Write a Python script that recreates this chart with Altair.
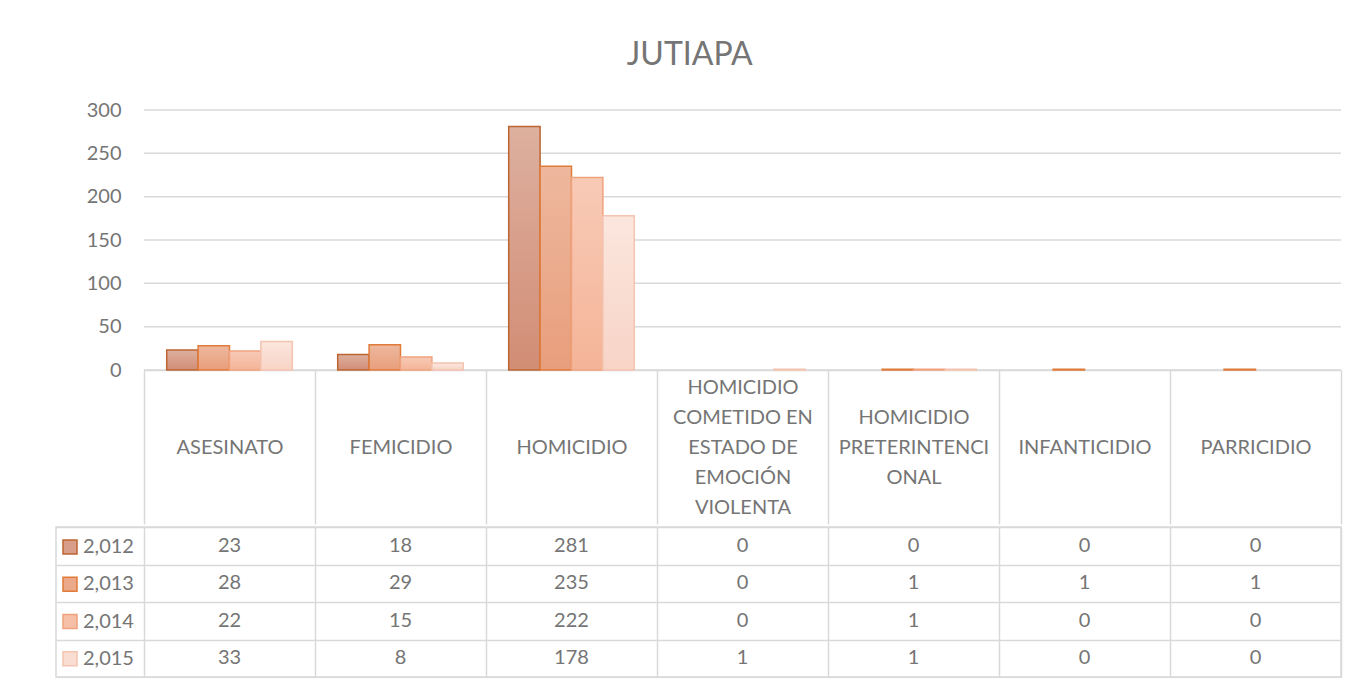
import json
import altair as alt
import pandas as pd

# ---------------- data ----------------
categories = [
    "ASESINATO",
    "FEMICIDIO",
    "HOMICIDIO",
    "HOMICIDIO COMETIDO EN ESTADO DE EMOCIÓN VIOLENTA",
    "HOMICIDIO PRETERINTENCIONAL",
    "INFANTICIDIO",
    "PARRICIDIO",
]
category_lines = [
    ["ASESINATO"],
    ["FEMICIDIO"],
    ["HOMICIDIO"],
    ["HOMICIDIO", "COMETIDO EN", "ESTADO DE", "EMOCIÓN", "VIOLENTA"],
    ["HOMICIDIO", "PRETERINTENCI", "ONAL"],
    ["INFANTICIDIO"],
    ["PARRICIDIO"],
]
years = ["2,012", "2,013", "2,014", "2,015"]
values_2012 = [23, 18, 281, 0, 0, 0, 0]
values_2013 = [28, 29, 235, 0, 1, 1, 1]
values_2014 = [22, 15, 222, 0, 1, 0, 0]
values_2015 = [33, 8, 178, 1, 1, 0, 0]
y_ticks = [0, 50, 100, 150, 200, 250, 300]

# ---------------- style ----------------
fill_top = ["#ddb09f", "#eeb89e", "#f8cab6", "#fbe6de"]
fill_bottom = ["#d28d75", "#e89e7c", "#f4b498", "#f8d4c6"]
fill_mid = ["#d89e89", "#eba98a", "#f6bfa7", "#f9ddd2"]
stroke_colors = ["#bd6530", "#e07b39", "#f0a27e", "#f4c4b0"]
TXT = "#757575"
GRID = "#d9d9d9"
FONT = "Lato"
HEADER_H = 154
LINE_H = 30

rows = []
for yr, vals in zip(years, [values_2012, values_2013, values_2014, values_2015]):
    for c, v in zip(categories, vals):
        rows.append({"category": c, "year": yr, "value": v})
df = pd.DataFrame(rows)
grid_df = pd.DataFrame({"tick": y_ticks})

label_expr = "".join(
    f"datum.value == {json.dumps(c)} ? {json.dumps(l)} : "
    for c, l in zip(categories, category_lines)
) + "datum.value"

# vertical centring of wrapped header text: first line moves up half a line per extra line
n_lines = sorted({len(l) for l in category_lines if len(l) > 1}, reverse=True)
pad_conditions = []
for n in n_lines:
    names = [c for c, l in zip(categories, category_lines) if len(l) == n]
    pad_conditions.append({
        "test": f"indexof({json.dumps(names)}, datum.value) >= 0",
        "value": -HEADER_H / 2 - (n - 1) * LINE_H / 2,
    })
label_padding = {"condition": pad_conditions, "value": -HEADER_H / 2}

# ---------------- top: clustered bars ----------------
x_scale_top = alt.Scale(domain=categories, range=[88, 1285], paddingInner=0, paddingOuter=0)
x_axis_top = alt.Axis(
    labelExpr=label_expr, labelAngle=0, labelFont=FONT, labelFontSize=20,
    labelColor=TXT, labelBaseline="middle", labelAlign="center",
    labelLineHeight=LINE_H, labelPadding=label_padding, labelLimit=0, labelOverlap=False,
    tickBand="extent", tickSize=HEADER_H, tickColor=GRID, tickWidth=1.5,
    domainColor=GRID, domainWidth=1.5, grid=False, title=None,
)
y_scale_top = alt.Scale(domain=[0, 300])
y_axis_top = alt.Axis(
    values=y_ticks, domain=False, ticks=False, grid=False, labelPadding=-65,
    labelFont=FONT, labelFontSize=20, labelColor=TXT, title=None,
)
x_off = alt.XOffset("year:N", scale=alt.Scale(domain=years, paddingInner=0, paddingOuter=0.723))

gridlines = alt.Chart(grid_df).mark_rule(color=GRID, strokeWidth=1.5).encode(
    x=alt.X(datum=categories[0], type="nominal", bandPosition=0,
            scale=x_scale_top, axis=x_axis_top),
    x2=alt.X2(datum=categories[-1], bandPosition=1),
    y=alt.Y("tick:Q", scale=y_scale_top, axis=y_axis_top),
)

bar_layers = [gridlines]
for i, yr in enumerate(years):
    grad = alt.Gradient(
        gradient="linear",
        stops=[alt.GradientStop(color=fill_top[i], offset=0),
               alt.GradientStop(color=fill_bottom[i], offset=1)],
        x1=0, x2=0, y1=0, y2=1,
    )
    bar_layers.append(
        alt.Chart(df)
        .transform_filter((alt.datum.year == yr) & (alt.datum.value > 0))
        .mark_bar(fill=grad, stroke=stroke_colors[i], strokeWidth=1.5)
        .encode(
            x=alt.X("category:N", sort=categories, scale=x_scale_top, axis=x_axis_top),
            xOffset=x_off,
            y=alt.Y("value:Q", scale=y_scale_top, axis=y_axis_top),
        )
    )
top = alt.layer(*bar_layers).properties(
    width=1285, height=260,
    view=alt.ViewBackground(stroke="transparent"),
)

# ---------------- bottom: data table ----------------
x_bot = alt.X(
    "category:N", sort=categories, title=None,
    scale=alt.Scale(domain=categories, paddingInner=0, paddingOuter=0.2573, align=1),
    axis=alt.Axis(labels=False, ticks=False, domain=False, grid=True,
                  tickBand="extent", gridColor=GRID, gridWidth=1.5),
)
y_bot = alt.Y(
    "year:N", sort=years, title=None,
    scale=alt.Scale(domain=years, paddingInner=0, paddingOuter=0),
    axis=alt.Axis(labels=False, ticks=False, domain=False, grid=True,
                  tickBand="extent", gridColor=GRID, gridWidth=1.5),
)
legend_kw = dict(
    orient="none", legendX=4, legendY=10, title=None, symbolType="square",
    symbolSize=196, symbolStrokeWidth=1.5, symbolOpacity=1,
    symbolFillColor="#ffffff", symbolStrokeColor="#ffffff",
    labelFont=FONT, labelFontSize=20, labelColor=TXT, labelOffset=3,
    rowPadding=17.25, padding=0,
)
keys = alt.Chart(df).mark_square(opacity=0).encode(
    x=x_bot, y=y_bot,
    fill=alt.Fill("year:N", sort=years, scale=alt.Scale(domain=years, range=fill_mid),
                  legend=alt.Legend(**legend_kw)),
    stroke=alt.Stroke("year:N", sort=years, scale=alt.Scale(domain=years, range=stroke_colors),
                      legend=alt.Legend(**legend_kw)),
)
cells = alt.Chart(df).mark_text(font=FONT, fontSize=20, color=TXT).encode(
    x=x_bot, y=y_bot, text=alt.Text("value:Q", format="d")
)
bottom = alt.layer(keys, cells).properties(
    width=1285, height=150,
    view=alt.ViewBackground(stroke=GRID, strokeWidth=1.5),
)

chart = (
    alt.vconcat(
        top, bottom, spacing=0,
        title=alt.Title("JUTIAPA", fontSize=32, font=FONT, fontWeight="normal",
                        color=TXT, anchor="middle", offset=28, dx=-9),
    )
    .resolve_scale(x="independent", fill="independent", stroke="independent")
    .resolve_legend(fill="independent", stroke="independent")
    .properties(padding={"left": 47, "top": 30, "right": 5, "bottom": 0})
    .configure_view(stroke="transparent")
    .configure(font=FONT)
)

chart.save("out.html", embed_options={"renderer": "svg", "actions": False})
